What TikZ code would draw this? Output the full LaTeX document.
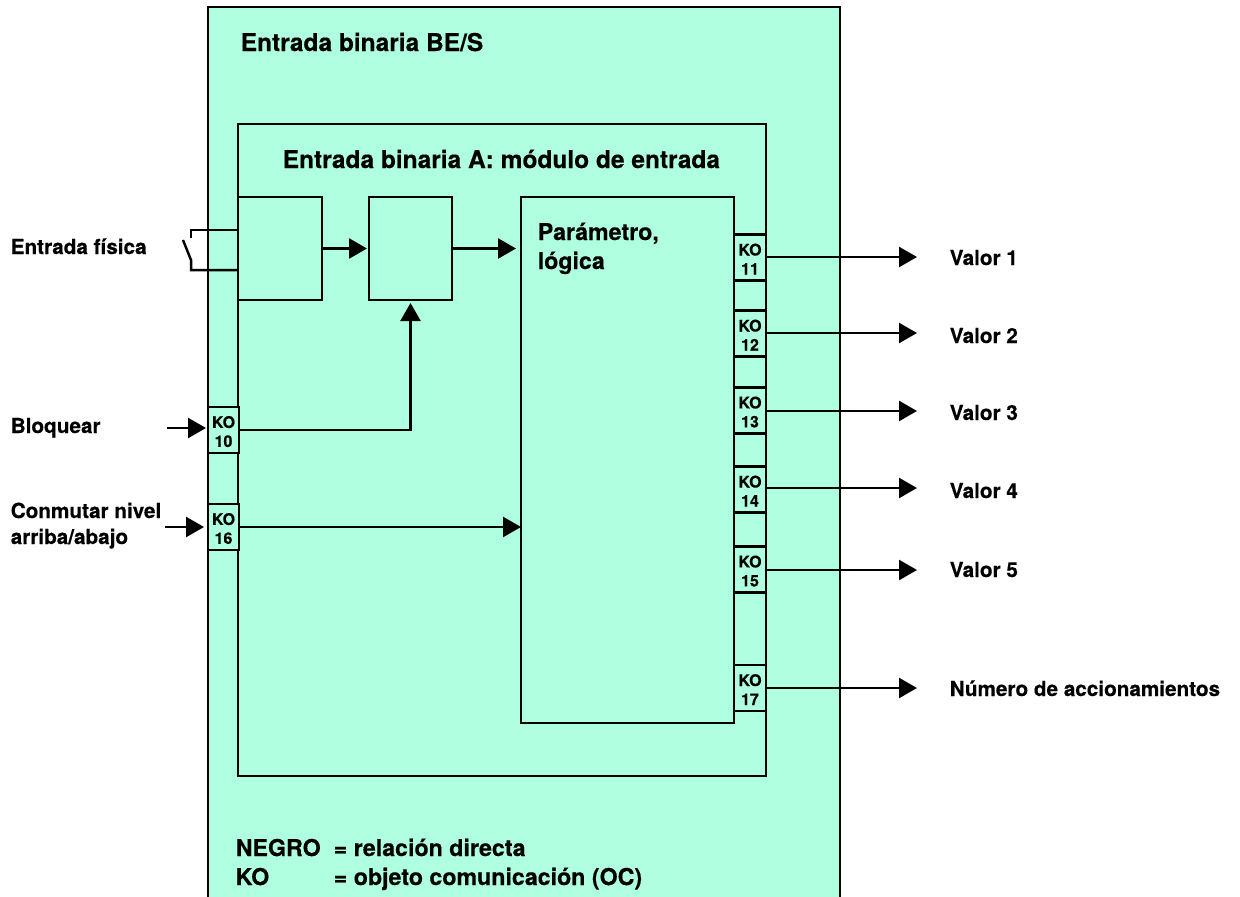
\documentclass[tikz,border=0pt]{standalone}
\usepackage{fontspec}
\setmainfont[BoldFeatures={FakeBold=0.4}]{TeX Gyre Heros}
\usepackage{xcolor}
\usetikzlibrary{arrows.meta}
\definecolor{mint}{RGB}{175,255,225}
\newcommand{\kolabel}[1]{\rule{0pt}{15pt}KO\\#1}

\begin{document}
\begin{tikzpicture}[x=1pt,y=-1pt,line width=2.5pt,font=\bfseries\fontsize{20.7}{26}\selectfont,
blk/.style n args={2}{draw,fill=mint,rectangle,inner sep=0pt,outer sep=0pt,minimum width=#1pt,minimum height=#2pt},
ko/.style={blk={#1}{46},align=center,font=\bfseries\fontsize{16}{19}\selectfont},
lbl/.style={anchor=base west,inner sep=0pt,align=left,xshift=-1.5pt},
ttl/.style={lbl,font=\bfseries\fontsize{24.5}{29}\selectfont},
lgd/.style={lbl,font=\bfseries\fontsize{23.2}{29}\selectfont},
arr/.style={-{Triangle[length=18pt,width=20pt]}}]
\useasboundingbox (0,0) rectangle (1240,897);
\fill[mint] (208,7) rectangle (840,897);
\draw (208,897) -- (208,7) -- (840,7) -- (840,897);
\node[blk={528}{652}] (modA) at (502,450) {};
\node[blk={84}{103}] (boxA) at (280,248.5) {};
\node[blk={83}{103}] (boxB) at (410.5,248.5) {};
\node[blk={213}{526}] (logic) at (627.5,460) {};
\node[ttl] at (241,51) {Entrada binaria BE/S};
\node[ttl] at (283,168) {Entrada binaria A: módulo de entrada};
\node[lgd] at (538,240) {Parámetro,};
\node[lgd] at (538,269) {lógica};
% inputs
\node[ko=31] (ko10) at (223.5,430) {\kolabel{10}};
\node[ko=31] (ko16) at (223.5,527) {\kolabel{16}};
\node[lbl] (inFis) at (11,254) {Entrada física};
\node[lbl] (inBlq) at (11,433) {Bloquear};
\node[lbl] (inNiv) at (11,518) {Conmutar nivel};
\node[lbl] (inArr) at (11,544) {arriba/abajo};
\coordinate (srcBlq) at (167,428);
\coordinate (srcNiv) at (165,527);
\draw[arr,shorten >=2pt] (srcBlq) -- (ko10.west |- srcBlq);
\draw[arr,shorten >=4pt] (srcNiv) -- (ko16.west |- srcNiv);
% switch
\coordinate (swA) at (191,230);
\coordinate (swB) at (191,270);
\draw (boxA.west |- swA) -- (swA) -- +(0,8);
\draw (boxA.west |- swB) -- (swB) -- +(0,-10) -- +(-8,-30);
% inner links
\coordinate (jct) at (boxB.south |- ko10.east);
\draw[arr,shorten >=2pt] (boxA.east) -- (boxB.west);
\draw[arr,shorten >=5pt] (boxB.east) -- (logic.west |- boxB.east);
\draw[arr,shorten >=3pt] (ko10.east) -- (jct) -- (boxB.south);
\draw[arr] (ko16.east) -- (logic.west |- ko16.east);
% outputs
\foreach \n/\y/\a/\b/\t in {%
11/257.5/257/265/Valor 1,12/333.5/333/343/Valor 2,13/410.5/411/420/Valor 3,14/489.5/488/498/Valor 4,15/569.5/570/577/Valor 5,17/688/688/696/Número de accionamientos} {
   \node[ko=32] (ko\n) at (750,\y) {\kolabel{\n}};
   \node[lbl] (out\n) at (950,\b) {\t};
   \coordinate (end\n) at (917,\a);
   \draw[arr] (ko\n.east |- end\n) -- (end\n);
}
% legend
\node[lgd] at (236,856) {NEGRO};
\node[lgd] at (334,856) {= relación directa};
\node[lgd] at (236,885) {KO};
\node[lgd] at (334,885) {= objeto comunicación (OC)};
\end{tikzpicture}
\end{document}
